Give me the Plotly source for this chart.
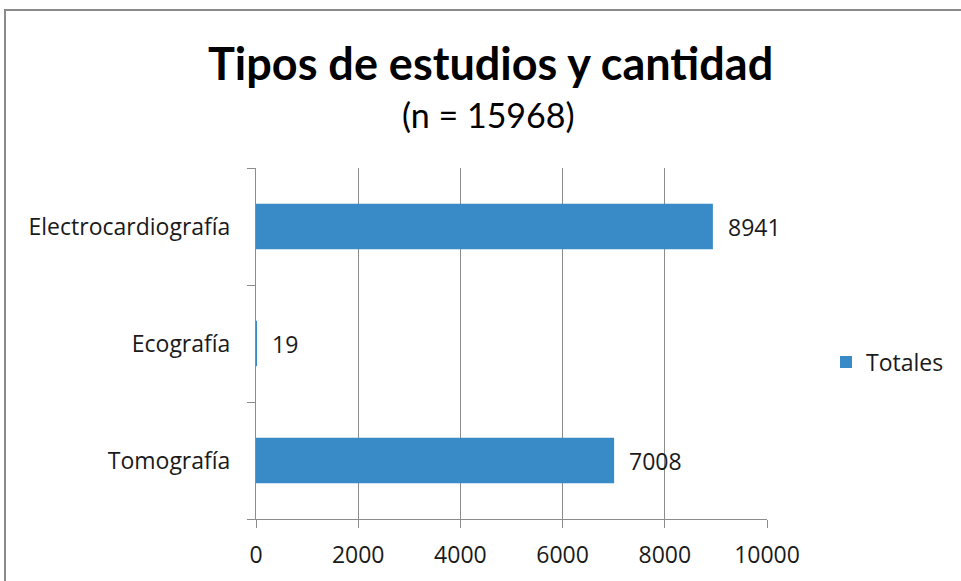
import plotly.graph_objects as go

categories = ["Tomografía", "Ecografía", "Electrocardiografía"]
totales = [7008, 19, 8941]
series_name = "Totales"
x_ticks = [0, 2000, 4000, 6000, 8000, 10000]
title_text = "Tipos de estudios y cantidad"
subtitle_text = "(n = 15968)"

FONT = "Open Sans"
TFONT = "Lato"
BAR = "#388BC7"
GRID = "#8C8C8C"
TXT = "#1a1a1a"
FS = 23

fig = go.Figure()
fig.add_trace(go.Bar(
    y=categories, x=totales, orientation="h", name=series_name,
    marker=dict(color=BAR, line=dict(width=0)), width=0.39,
    showlegend=True,
))

for c, v in zip(categories, totales):
    fig.add_annotation(x=v, y=c, xref="x", yref="y", text=str(v), showarrow=False,
                       xanchor="left", xshift=13, font=dict(family=FONT, size=FS, color=TXT))

L, R, T, B = 256, 767, 168, 519
W, H = 961, 581
def px(xp):
    return (xp - L) / (R - L)
def py(yp):
    return (B - yp) / (B - T)

fig.add_annotation(x=px(490), y=py(63), xref="paper", yref="paper", text="<b>" + title_text + "</b>",
                   showarrow=False, xanchor="center", yanchor="middle",
                   font=dict(family=TFONT, size=45, color="#000000"))
fig.add_annotation(x=px(488), y=py(115), xref="paper", yref="paper", text=subtitle_text,
                   showarrow=False, xanchor="center", yanchor="middle",
                   font=dict(family=TFONT, size=34, color="#000000"))

# chart border (cropped at right/bottom)
fig.add_shape(type="rect", xref="paper", yref="paper", x0=px(5), x1=px(990), y0=py(620), y1=py(10),
              line=dict(color="#8A8A8A", width=2), fillcolor="rgba(0,0,0,0)", layer="below")

fig.update_layout(
    width=W, height=H,
    margin=dict(l=L, r=W - R, t=T, b=H - B, pad=0),
    paper_bgcolor="white", plot_bgcolor="white",
    font=dict(family=FONT, size=FS, color=TXT),
    legend=dict(x=px(826), y=py(362), xanchor="left", yanchor="middle",
                font=dict(family=FONT, size=FS, color=TXT),
                bgcolor="rgba(0,0,0,0)", itemwidth=30),
)
fig.update_xaxes(range=[0, 10000], tickvals=x_ticks, ticktext=[str(t) for t in x_ticks],
                 showgrid=True, gridcolor=GRID, gridwidth=1, zeroline=False,
                 showline=True, linecolor=GRID, linewidth=1, ticks="outside", ticklen=8,
                 tickcolor=GRID, ticklabelstandoff=7,
                 tickfont=dict(family=FONT, size=FS, color=TXT))
fig.update_yaxes(range=[-0.5, 2.5], showgrid=False, zeroline=False, showline=True, linecolor=GRID,
                 linewidth=1, ticks="outside", ticklen=8, tickcolor=GRID, tickson="boundaries",
                 ticklabelstandoff=20,
                 tickfont=dict(family=FONT, size=FS, color=TXT))

fig.write_html("out.html", config={"displayModeBar": False},
               post_script="document.body.style.margin='0';")
